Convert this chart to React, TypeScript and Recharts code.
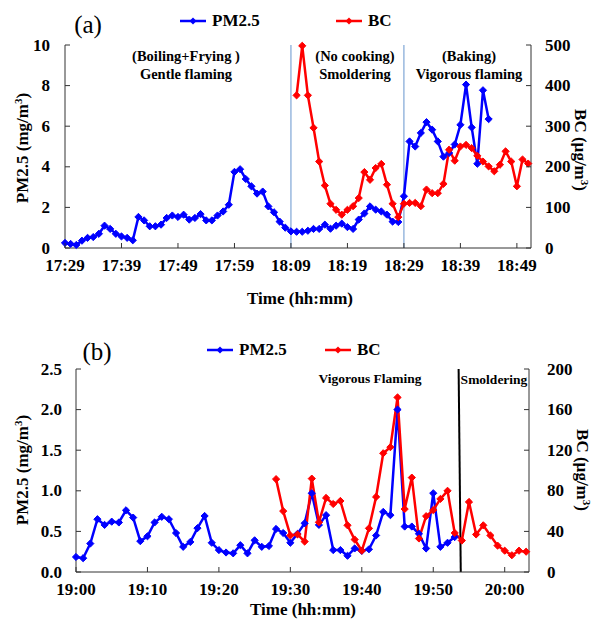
import React from "react";
import { ComposedChart, Line, XAxis, YAxis, ReferenceLine } from "recharts";

// ---- panel (a): minutes after 17:29 ----
const A_START = 17 * 60 + 29;
const A_X_TICKS = [0, 10, 20, 30, 40, 50, 60, 70, 80];
const A_LEFT_TICKS = [0, 2, 4, 6, 8, 10];
const A_RIGHT_TICKS = [0, 100, 200, 300, 400, 500];
const A_PM25 = [
  0.25, 0.2, 0.15, 0.36, 0.5, 0.54, 0.7, 1.1, 0.94, 0.7,
  0.57, 0.5, 0.38, 1.53, 1.36, 1.07, 1.07, 1.15, 1.48, 1.6,
  1.53, 1.64, 1.4, 1.48, 1.67, 1.36, 1.36, 1.6, 1.8, 2.13,
  3.75, 3.88, 3.4, 3.04, 2.68, 2.78, 2.05, 1.76, 1.3, 1.0,
  0.82, 0.8, 0.8, 0.85, 0.94, 0.94, 1.15, 0.95, 1.1, 1.2,
  1.03, 0.94, 1.4, 1.7, 2.05, 1.89, 1.8, 1.64, 1.3, 1.28,
  2.55, 5.25, 5.0, 5.67, 6.2, 5.83, 5.25, 4.5, 4.68, 5.1,
  6.07, 8.05, 5.94, 4.15, 7.77, 6.35,
];
const A_BC_START = 41;
const A_BC = [
  376, 498, 376, 296, 213, 154, 109, 94, 82,
  94, 103, 123, 187, 168, 197, 207, 156, 109, 76,
  109, 111, 111, 103, 144, 135, 135, 158, 242, 215,
  250, 254, 246, 227, 213, 201, 189, 205, 238, 213,
  152, 218, 208,
];
const A_PHASES = [40, 60];

// ---- panel (b): minutes after 19:00 ----
const B_START = 19 * 60;
const B_X_TICKS = [0, 10, 20, 30, 40, 50, 60];
const B_LEFT_TICKS = [0, 0.5, 1, 1.5, 2, 2.5];
const B_RIGHT_TICKS = [0, 40, 80, 120, 160, 200];
const B_PM25 = [
  0.185, 0.17, 0.35, 0.65, 0.58, 0.62, 0.61, 0.76, 0.67, 0.38,
  0.44, 0.61, 0.68, 0.65, 0.48, 0.31, 0.37, 0.54, 0.69, 0.36,
  0.27, 0.24, 0.23, 0.33, 0.23, 0.39, 0.31, 0.32, 0.53, 0.48,
  0.36, 0.47, 0.6, 0.97, 0.58, 0.7, 0.27, 0.27, 0.2, 0.29,
  0.26, 0.28, 0.45, 0.74, 0.7, 2.0, 0.56, 0.56, 0.47, 0.29,
  0.97, 0.31, 0.36, 0.43,
];
const B_BC_START = 28;
const B_BC = [
  91.5, 60,
  36, 37, 30, 92, 49, 73, 67, 70, 46, 32,
  21, 43, 74, 117, 123, 172, 62, 93, 33, 55,
  61, 72, 80, 38.5, 31, 69, 37, 46, 36, 26,
  21, 16.5, 21, 20,
];

const FONT = "'Liberation Serif', 'Times New Roman', serif";
const BLUE = "#0000ff";
const RED = "#ff0000";
const AXIS = "#333";

function buildRows(pm: number[], bc: number[], bcStart: number) {
  const n = Math.max(pm.length, bcStart + bc.length);
  const rows = [];
  for (let i = 0; i < n; i++) {
    rows.push({
      t: i,
      pm: i < pm.length ? pm[i] : null,
      bc: i >= bcStart && i - bcStart < bc.length ? bc[i - bcStart] : null,
    });
  }
  return rows;
}

const hhmm = (start: number) => (m: number) => {
  const v = start + m;
  return `${Math.floor(v / 60)}:${String(v % 60).padStart(2, "0")}`;
};

const diamond = (color: string) => (p: any) => {
  const { cx, cy, index } = p;
  if (cx == null || cy == null || isNaN(cy)) return <g key={`n${index}`} />;
  const r = 3.6;
  return (
    <path
      key={`d${index}`}
      d={`M${cx},${cy - r}L${cx + r},${cy}L${cx},${cy + r}L${cx - r},${cy}Z`}
      fill={color}
      stroke={color}
    />
  );
};

const textStyle = { fontFamily: FONT, fontWeight: 700, fontSize: 17, fill: "#000" };

const xTick = (fmt: (m: number) => string) => (p: any) => (
  <g>
    <line x1={p.x} x2={p.x} y1={p.y} y2={p.y - 5} stroke={AXIS} />
    <text x={p.x} y={p.y + 17} textAnchor="middle" dominantBaseline="central" style={textStyle}>
      {fmt(p.payload.value)}
    </text>
  </g>
);

const leftTick = (fmt: (v: number) => string, gap: number) => (p: any) => (
  <g>
    <line x1={p.x} x2={p.x + 5} y1={p.y} y2={p.y} stroke={AXIS} />
    <text x={p.x - gap} y={p.y} textAnchor="end" dominantBaseline="central" style={textStyle}>
      {fmt(p.payload.value)}
    </text>
  </g>
);

const rightTick = (gap: number) => (p: any) => (
  <g>
    <line x1={p.x} x2={p.x - 5} y1={p.y} y2={p.y} stroke={AXIS} />
    <text x={p.x + gap} y={p.y} textAnchor="start" dominantBaseline="central" style={textStyle}>
      {p.payload.value}
    </text>
  </g>
);

function Txt({ x, y, children, size = 17, weight = 700, rotate = 0 }: any) {
  return (
    <div
      style={{
        position: "absolute",
        left: x,
        top: y,
        transform: `translate(-50%, -50%) rotate(${rotate}deg)`,
        fontFamily: FONT,
        fontWeight: weight,
        fontSize: size,
        lineHeight: 1,
        whiteSpace: "nowrap",
        color: "#000",
      }}
    >
      {children}
    </div>
  );
}

function LegendItem({ x, y, color, label }: any) {
  return (
    <div style={{ position: "absolute", left: x, top: y - 10, height: 20, display: "flex", alignItems: "center" }}>
      <svg width={26} height={10} style={{ marginRight: 6 }}>
        <line x1={0} x2={26} y1={5} y2={5} stroke={color} strokeWidth={2.5} />
        <path d="M13,1.5L16.5,5L13,8.5L9.5,5Z" fill={color} />
      </svg>
      <span style={{ fontFamily: FONT, fontWeight: 700, fontSize: 17 }}>{label}</span>
    </div>
  );
}

function PanelA() {
  const rows = buildRows(A_PM25, A_BC, A_BC_START);
  const dom: [number, number] = [0, 82.5];
  return (
    <ComposedChart width={592} height={310} data={rows} margin={{ top: 45, right: 0, bottom: 0, left: 0 }}>
      <XAxis
        dataKey="t"
        type="number"
        domain={dom}
        ticks={A_X_TICKS}
        interval={0}
        height={62}
        tickSize={0}
        tickMargin={0}
        tickLine={false}
        axisLine={{ stroke: AXIS }}
        tick={xTick(hhmm(A_START))}
      />
      <XAxis xAxisId="top" dataKey="t" type="number" domain={dom} orientation="top" height={0} tick={false} tickLine={false} axisLine={{ stroke: "#666" }} />
      <YAxis
        yAxisId="l"
        domain={[0, 10]}
        ticks={A_LEFT_TICKS}
        interval={0}
        width={65}
        tickSize={0}
        tickMargin={0}
        tickLine={false}
        axisLine={{ stroke: AXIS }}
        tick={leftTick((v) => String(v), 15)}
      />
      <YAxis
        yAxisId="r"
        orientation="right"
        domain={[0, 500]}
        ticks={A_RIGHT_TICKS}
        interval={0}
        width={61}
        tickSize={0}
        tickMargin={0}
        tickLine={false}
        axisLine={{ stroke: AXIS }}
        tick={rightTick(14)}
      />
      {A_PHASES.map((m) => (
        <ReferenceLine key={m} x={m} yAxisId="l" stroke="#7fa6d6" strokeWidth={1.2} />
      ))}
      <Line yAxisId="l" dataKey="pm" stroke={BLUE} strokeWidth={2.5} dot={diamond(BLUE)} activeDot={false} isAnimationActive={false} />
      <Line yAxisId="r" dataKey="bc" stroke={RED} strokeWidth={2.5} dot={diamond(RED)} activeDot={false} isAnimationActive={false} />
    </ComposedChart>
  );
}

function PanelB() {
  const rows = buildRows(B_PM25, B_BC, B_BC_START);
  const dom: [number, number] = [0, 63.4];
  return (
    <ComposedChart width={592} height={309} data={rows} margin={{ top: 59, right: 0, bottom: 0, left: 0 }}>
      <XAxis
        dataKey="t"
        type="number"
        domain={dom}
        ticks={B_X_TICKS}
        interval={0}
        height={47}
        tickSize={0}
        tickMargin={0}
        tickLine={false}
        axisLine={{ stroke: AXIS }}
        tick={xTick(hhmm(B_START))}
      />
      <XAxis xAxisId="top" dataKey="t" type="number" domain={dom} orientation="top" height={0} tick={false} tickLine={false} axisLine={{ stroke: "#888", strokeWidth: 1.5 }} />
      <YAxis
        yAxisId="l"
        domain={[0, 2.5]}
        ticks={B_LEFT_TICKS}
        interval={0}
        width={76}
        tickSize={0}
        tickMargin={0}
        tickLine={false}
        axisLine={{ stroke: AXIS }}
        tick={leftTick((v) => v.toFixed(1), 14)}
      />
      <YAxis
        yAxisId="r"
        orientation="right"
        domain={[0, 200]}
        ticks={B_RIGHT_TICKS}
        interval={0}
        width={63}
        tickSize={0}
        tickMargin={0}
        tickLine={false}
        axisLine={{ stroke: AXIS }}
        tick={rightTick(18)}
      />
      <ReferenceLine
        yAxisId="l"
        segment={[{ x: 53.55, y: 2.5 }, { x: 53.85, y: 0 }]}
        stroke="#000"
        strokeWidth={2}
      />
      <Line yAxisId="l" dataKey="pm" stroke={BLUE} strokeWidth={2.5} dot={diamond(BLUE)} activeDot={false} isAnimationActive={false} />
      <Line yAxisId="r" dataKey="bc" stroke={RED} strokeWidth={2.5} dot={diamond(RED)} activeDot={false} isAnimationActive={false} />
    </ComposedChart>
  );
}

export default function App() {
  return (
    <div style={{ position: "absolute", left: 0, top: 0, width: 592, height: 619, background: "#fff", overflow: "hidden" }}>
      <div style={{ position: "absolute", left: 0, top: 0 }}>
        <PanelA />
      </div>
      <div style={{ position: "absolute", left: 0, top: 310 }}>
        <PanelB />
      </div>

      {/* panel (a) texts */}
      <Txt x={88} y={24} size={25} weight={400}>(a)</Txt>
      <LegendItem x={180} y={21} color={BLUE} label="PM2.5" />
      <LegendItem x={336} y={21} color={RED} label="BC" />
      <Txt x={186} y={56} size={14.5}>(Boiling+Frying )</Txt>
      <Txt x={186} y={74} size={14.5}>Gentle flaming</Txt>
      <Txt x={355} y={56} size={14.5}>(No cooking)</Txt>
      <Txt x={355} y={74} size={14.5}>Smoldering</Txt>
      <Txt x={469} y={56} size={14.5}>(Baking)</Txt>
      <Txt x={469} y={74} size={14.5}>Vigorous flaming</Txt>
      <Txt x={22} y={148} rotate={-90}>PM2.5 (mg/m<sup style={{ fontSize: 11 }}>3</sup>)</Txt>
      <Txt x={581} y={150} rotate={90}>BC (µg/m<sup style={{ fontSize: 11 }}>3</sup>)</Txt>
      <Txt x={300} y={298}>Time (hh:mm)</Txt>

      {/* panel (b) texts */}
      <Txt x={97} y={351} size={25} weight={400}>(b)</Txt>
      <LegendItem x={207} y={350} color={BLUE} label="PM2.5" />
      <LegendItem x={325} y={350} color={RED} label="BC" />
      <Txt x={370} y={379} size={13.5}>Vigorous Flaming</Txt>
      <Txt x={494} y={380} size={13.5}>Smoldering</Txt>
      <Txt x={22} y={470} rotate={-90}>PM2.5 (mg/m<sup style={{ fontSize: 11 }}>3</sup>)</Txt>
      <Txt x={583} y={470} rotate={90}>BC (µg/m<sup style={{ fontSize: 11 }}>3</sup>)</Txt>
      <Txt x={303} y={609}>Time (hh:mm)</Txt>
    </div>
  );
}
